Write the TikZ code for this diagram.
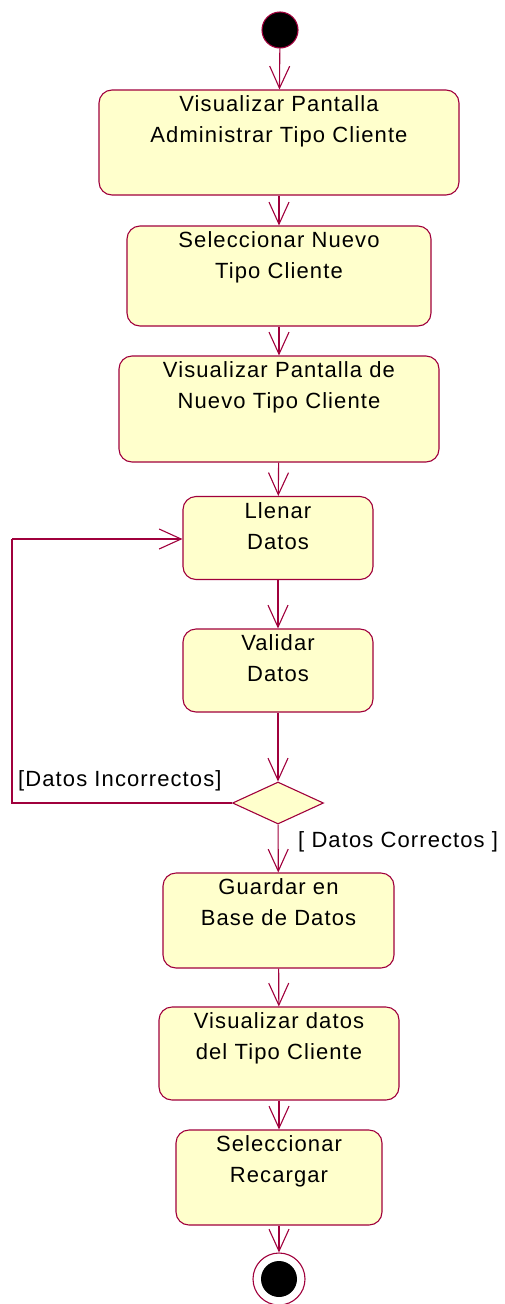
\documentclass[tikz,border=0pt]{standalone}
\usepackage{fontspec}
\setmainfont{Liberation Sans}
\newfontfamily\umlfont[LetterSpace=5]{Liberation Sans}
\usetikzlibrary{arrows.meta,shapes.geometric}
\definecolor{umlline}{RGB}{160,0,60}
\definecolor{umlfill}{RGB}{255,255,204}
\begin{document}
\begin{tikzpicture}[x=1pt,y=-1pt,
  actbox/.style={draw=umlline,fill=umlfill,line width=1.1pt,rounded corners=13pt,inner sep=0pt},
  acttext/.style={anchor=north,inner sep=0pt,align=center,font=\umlfont\fontsize{22}{31}\selectfont},
  guard/.style={anchor=base west,inner sep=0pt,font=\umlfont\fontsize{22}{31}\selectfont},
  flow/.style={draw=umlline,line width=1.1pt,-{Straight Barb[length=22pt,width=20pt,line width=1.1pt]}}
]
\useasboundingbox (0,0) rectangle (505,1304);
% start
\node[circle,draw=umlline,fill=black,line width=1.1pt,minimum size=36pt,inner sep=0pt] (s) at (280,30) {};
% boxes
\node[actbox,minimum width=360pt,minimum height=105pt] (b1) at (279,142.5) {};
\node[acttext] (t1) at ([yshift=-6pt]b1.north) {Visualizar Pantalla\\Administrar Tipo Cliente};
\node[actbox,minimum width=304pt,minimum height=100pt] (b2) at (279,276) {};
\node[acttext] (t2) at ([yshift=-6pt]b2.north) {Seleccionar Nuevo\\Tipo Cliente};
\node[actbox,minimum width=320pt,minimum height=106pt] (b3) at (279,409) {};
\node[acttext] (t3) at ([yshift=-6pt]b3.north) {Visualizar Pantalla de\\Nuevo Tipo Cliente};
\node[actbox,minimum width=190pt,minimum height=83pt] (b4) at (278,538) {};
\node[acttext] (t4) at ([yshift=-6pt]b4.north) {Llenar\\Datos};
\node[actbox,minimum width=190pt,minimum height=83pt] (b5) at (278,670.5) {};
\node[acttext] (t5) at ([yshift=-6pt]b5.north) {Validar\\Datos};
\node[diamond,draw=umlline,fill=umlfill,line width=1.1pt,minimum width=91pt,minimum height=42pt,inner sep=0pt] (d) at (278,803) {};
\node[actbox,minimum width=231pt,minimum height=95pt] (b6) at (278.5,920.5) {};
\node[acttext] (t6) at ([yshift=-6pt]b6.north) {Guardar en\\Base de Datos};
\node[actbox,minimum width=240pt,minimum height=93pt] (b7) at (279,1053.5) {};
\node[acttext] (t7) at ([yshift=-6pt]b7.north) {Visualizar datos\\del Tipo Cliente};
\node[actbox,minimum width=206pt,minimum height=95pt] (b8) at (279,1177.5) {};
\node[acttext] (t8) at ([yshift=-6pt]b8.north) {Seleccionar\\Recargar};
% end
\node[circle,draw=umlline,fill=white,line width=1.1pt,minimum size=52pt,inner sep=0pt] (e) at (279,1279) {};
\node[circle,fill=black,minimum size=36pt,inner sep=0pt] (ei) at (e.center) {};
% flows
\draw[flow] (s) -- (b1);
\draw[flow] (b1) -- (b2);
\draw[flow] (b2) -- (b3);
\draw[flow] (b3) -- (b4);
\draw[flow] (b4) -- (b5);
\draw[flow] (b5) -- (d);
\draw[flow] (d) -- (b6);
\draw[flow] (b6) -- (b7);
\draw[flow] (b7) -- (b8);
\draw[flow] (b8) -- (e);
\coordinate (c1) at (12,803);
\coordinate (c2) at (12,539);
\draw[flow,-] (d.west) -- (c1) -- (c2);
\draw[flow] (c2) -- (b4.west |- c2);
% guards
\node[guard] (g1) at (18,786) {[Datos Incorrectos]};
\node[guard] (g2) at (298,847) {[ Datos Correctos ]};
\end{tikzpicture}
\end{document}
